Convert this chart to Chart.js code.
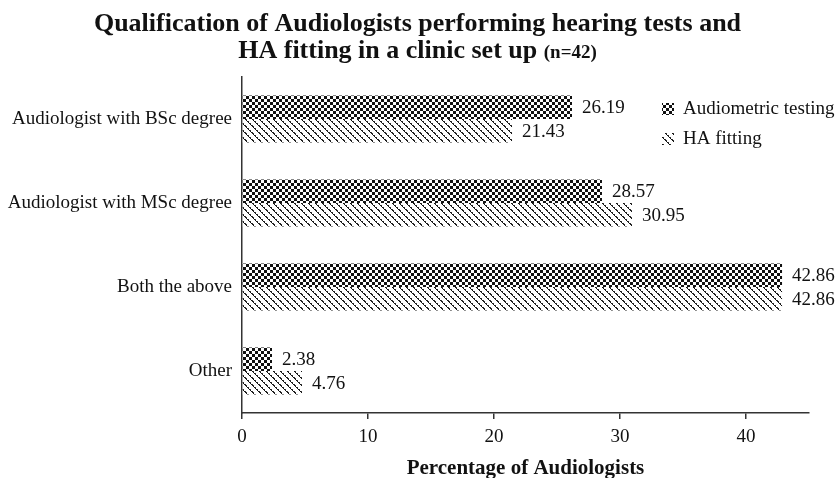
<!DOCTYPE html>
<html>
<head>
<meta charset="utf-8">
<script src="https://cdn.jsdelivr.net/npm/chart.js@4.4.1/dist/chart.umd.min.js"></script>
<style>
  html, body { margin: 0; padding: 0; background: #fff; }
  #wrap { width: 835px; height: 478px; position: relative; }
</style>
</head>
<body>
<div id="wrap"><canvas id="c" width="835" height="478"></canvas></div>
<script>
// ---- data ----
const categories = ["Audiologist with BSc degree", "Audiologist with MSc degree", "Both the above", "Other"];
const audiometricTesting = [26.19, 28.57, 42.86, 2.38];
const haFitting = [21.43, 30.95, 42.86, 4.76];
const seriesNames = ["Audiometric testing", "HA fitting"];
const xTicks = [0, 10, 20, 30, 40];
const titleLine1 = "Qualification of Audiologists performing hearing tests and";
const titleLine2 = "HA fitting in a clinic set up";
const titleNote = "(n=42)";
const xAxisTitle = "Percentage of Audiologists";

const SERIF = "'Liberation Serif', 'Times New Roman', serif";

function checkerPattern() {
  const s = 3, c = document.createElement('canvas');
  c.width = 2 * s; c.height = 2 * s;
  const x = c.getContext('2d');
  x.fillStyle = '#fff'; x.fillRect(0, 0, 2 * s, 2 * s);
  x.fillStyle = '#111';
  x.fillRect(0, 0, s, s); x.fillRect(s, s, s, s);
  return x.createPattern(c, 'repeat');
}
function hatchPattern() {
  const n = 7;
  const c = document.createElement('canvas');
  c.width = n; c.height = n;
  const x = c.getContext('2d');
  x.fillStyle = '#fff'; x.fillRect(0, 0, n, n);
  for (let i = 0; i < n; i++) {
    x.fillStyle = '#111'; x.fillRect(i, i, 1, 1);
    if (i % 2 === 0) { x.fillStyle = '#333'; x.fillRect((i + 1) % n, i, 1, 1); }
  }
  return x.createPattern(c, 'repeat');
}
const pChecker = checkerPattern();
const pHatch = hatchPattern();
const patterns = [pChecker, pHatch];

const titlePlugin = {
  id: 'titlePlugin',
  afterDraw(chart) {
    const ctx = chart.ctx;
    ctx.save();
    ctx.fillStyle = '#111';
    ctx.textBaseline = 'middle';
    ctx.textAlign = 'left';
    const cx = chart.width / 2;
    const big = "bold 26px " + SERIF;
    const small = "bold 19px " + SERIF;
    ctx.font = big;
    const w1 = ctx.measureText(titleLine1).width;
    ctx.fillText(titleLine1, cx - w1 / 2, 24);
    const w2a = ctx.measureText(titleLine2 + " ").width;
    ctx.font = small;
    const w2b = ctx.measureText(titleNote).width;
    const start = cx - (w2a + w2b) / 2;
    ctx.font = big;
    ctx.fillText(titleLine2 + " ", start, 51);
    ctx.font = small;
    ctx.fillText(titleNote, start + w2a, 53);
    ctx.restore();
  }
};

const valueLabels = {
  id: 'valueLabels',
  afterDatasetsDraw(chart) {
    const ctx = chart.ctx;
    ctx.save();
    ctx.font = "19px " + SERIF;
    ctx.fillStyle = '#111';
    ctx.textBaseline = 'middle';
    ctx.textAlign = 'left';
    chart.data.datasets.forEach((ds, di) => {
      chart.getDatasetMeta(di).data.forEach((bar, i) => {
        ctx.fillText(ds.data[i].toFixed(2), bar.x + 10, bar.y + 1);
      });
    });
    ctx.restore();
  }
};

const legendPlugin = {
  id: 'legendPlugin',
  afterDraw(chart) {
    const ctx = chart.ctx;
    ctx.save();
    ctx.font = "19px " + SERIF;
    ctx.textBaseline = 'middle';
    ctx.textAlign = 'left';
    const ys = [109, 139];
    seriesNames.forEach((name, i) => {
      ctx.fillStyle = patterns[i];
      ctx.fillRect(662, ys[i] - 6, 12, 12);
      ctx.fillStyle = '#111';
      ctx.fillText(name, 683, ys[i]);
    });
    ctx.restore();
  }
};

new Chart(document.getElementById('c'), {
  type: 'bar',
  data: {
    labels: categories,
    datasets: [
      { label: seriesNames[0], data: audiometricTesting, backgroundColor: pChecker, borderWidth: 0 },
      { label: seriesNames[1], data: haFitting, backgroundColor: pHatch, borderWidth: 0 }
    ]
  },
  options: {
    indexAxis: 'y',
    responsive: false,
    animation: false,
    devicePixelRatio: 1,
    layout: { padding: { top: 77, right: 26, left: 0, bottom: 0 } },
    datasets: { bar: { categoryPercentage: 0.56, barPercentage: 1.0 } },
    plugins: {
      legend: { display: false },
      title: { display: false },
      tooltip: { enabled: false }
    },
    scales: {
      x: {
        min: 0, max: 45,
        afterBuildTicks(axis) { axis.ticks = xTicks.map(v => ({ value: v })); },
        afterFit(scale) { scale.height = 65; },
        border: { display: true, color: '#333', width: 1.5 },
        grid: { drawOnChartArea: false, drawTicks: true, tickLength: 6, color: '#333', lineWidth: 1.5 },
        ticks: { color: '#111', font: { family: SERIF, size: 19 }, padding: 7 },
        title: { display: true, text: xAxisTitle, color: '#111', font: { family: SERIF, size: 21, weight: 'bold' }, padding: { top: 0, bottom: -3 } }
      },
      y: {
        afterFit(scale) { scale.width = 242; },
        border: { display: true, color: '#333', width: 1.5 },
        grid: { display: false, drawTicks: false },
        ticks: { color: '#111', font: { family: SERIF, size: 19 }, padding: 10 }
      }
    }
  },
  plugins: [titlePlugin, valueLabels, legendPlugin]
});
</script>
</body>
</html>
